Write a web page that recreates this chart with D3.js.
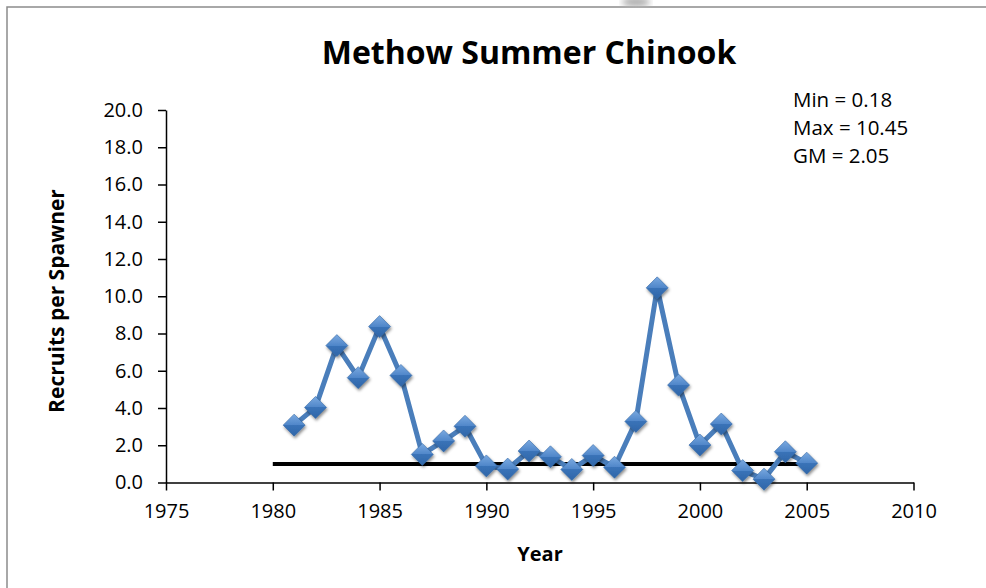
<!DOCTYPE html>
<html><head><meta charset="utf-8">
<script src="https://cdn.jsdelivr.net/npm/d3@7"></script>
<style>
html,body{margin:0;padding:0;background:#fff;}
svg{display:block;font-family:"Open Sans","Noto Sans",sans-serif;}
</style></head>
<body>
<svg id="chart" width="986" height="588"></svg>
<script>
const years = [1981,1982,1983,1984,1985,1986,1987,1988,1989,1990,1991,1992,1993,1994,1995,1996,1997,1998,1999,2000,2001,2002,2003,2004,2005];
const recruitsPerSpawner = [3.08,4.03,7.35,5.63,8.37,5.75,1.51,2.23,3.02,0.89,0.72,1.69,1.38,0.70,1.45,0.82,3.28,10.45,5.23,2.01,3.14,0.64,0.18,1.65,1.04];
const replacementYears = [1980,2005];
const replacementValues = [1.0,1.0];
const xTicks = [1975,1980,1985,1990,1995,2000,2005,2010];
const yTicks = [0,2,4,6,8,10,12,14,16,18,20];
const annotations = ["Min = 0.18","Max = 10.45","GM = 2.05"];
const title = "Methow Summer Chinook";
const xLabel = "Year";
const yLabel = "Recruits per Spawner";

const svg = d3.select("#chart");
const defs = svg.append("defs");
const grad = defs.append("linearGradient").attr("id","dg").attr("x1","0").attr("y1","0").attr("x2","0").attr("y2","1");
grad.append("stop").attr("offset","0%").attr("stop-color","#7aa9e0");
grad.append("stop").attr("offset","50%").attr("stop-color","#4f86c9");
grad.append("stop").attr("offset","50%").attr("stop-color","#3a73b8");
grad.append("stop").attr("offset","100%").attr("stop-color","#2f66a8");
const sh = defs.append("filter").attr("id","sh").attr("x","-50%").attr("y","-50%").attr("width","200%").attr("height","200%");
sh.append("feDropShadow").attr("dx",1).attr("dy",2).attr("stdDeviation",1.6).attr("flood-color","#000").attr("flood-opacity",0.45);
const blur = defs.append("filter").attr("id","bl");
blur.append("feGaussianBlur").attr("stdDeviation",3);

// frame
svg.append("path").attr("d","M7,588 V7 H986").attr("fill","none").attr("stroke","#8c8c8c").attr("stroke-width",1.5);
svg.append("ellipse").attr("cx",636).attr("cy",2).attr("rx",14).attr("ry",5).attr("fill","#b0b0b0").attr("filter","url(#bl)");

const x = d3.scaleLinear().domain([1975,2010]).range([166,913.5]);
const y = d3.scaleLinear().domain([0,20]).range([482.5,110]);

const xAxis = svg.append("g").attr("transform","translate(0,482.5)")
  .call(d3.axisBottom(x).tickValues(xTicks).tickFormat(d3.format("d")).tickSize(8).tickPadding(13).tickSizeOuter(0));
const yAxis = svg.append("g").attr("transform","translate(166,0)")
  .call(d3.axisLeft(y).tickValues(yTicks).tickFormat(d3.format(".1f")).tickSize(8).tickPadding(15).tickSizeOuter(0));
[xAxis,yAxis].forEach(g=>{
  g.select(".domain").attr("stroke","#000").attr("stroke-width",1.5);
  g.selectAll(".tick line").attr("stroke","#000").attr("stroke-width",1.5);
  g.selectAll(".tick text").attr("font-size",20).attr("fill","#000").attr("font-family","'Open Sans',sans-serif");
});

// replacement line
const rep = replacementYears.map((d,i)=>[d,replacementValues[i]]);
svg.append("path").datum(rep).attr("fill","none").attr("stroke","#000").attr("stroke-width",4)
  .attr("d",d3.line().x(d=>x(d[0])).y(d=>y(d[1])));

// series
const pts = years.map((d,i)=>[d,recruitsPerSpawner[i]]);
svg.append("path").datum(pts).attr("fill","none").attr("stroke","#4a7ebb").attr("stroke-width",5).attr("stroke-linejoin","round")
  .attr("d",d3.line().x(d=>x(d[0])).y(d=>y(d[1])));
const s = 11;
svg.append("g").selectAll("path").data(pts).join("path")
  .attr("d",d=>`M${x(d[0])},${y(d[1])-s} L${x(d[0])+s},${y(d[1])} L${x(d[0])},${y(d[1])+s} L${x(d[0])-s},${y(d[1])} Z`)
  .attr("fill","url(#dg)").attr("stroke","#3569a6").attr("stroke-width",0.6).attr("filter","url(#sh)");

// title
svg.append("text").attr("x",529).attr("y",64).attr("text-anchor","middle").attr("font-size",32).attr("font-weight","bold").text(title);
// axis titles
svg.append("text").attr("x",540).attr("y",561).attr("text-anchor","middle").attr("font-size",20).attr("font-weight","bold").text(xLabel);
svg.append("text").attr("transform","translate(64,301) rotate(-90)").attr("text-anchor","middle").attr("font-size",21).attr("font-weight","bold").text(yLabel);
// annotations
svg.append("g").selectAll("text").data(annotations).join("text")
  .attr("x",793).attr("y",(d,i)=>107+i*28).attr("font-size",20.5).text(d=>d);
</script>
</body></html>
